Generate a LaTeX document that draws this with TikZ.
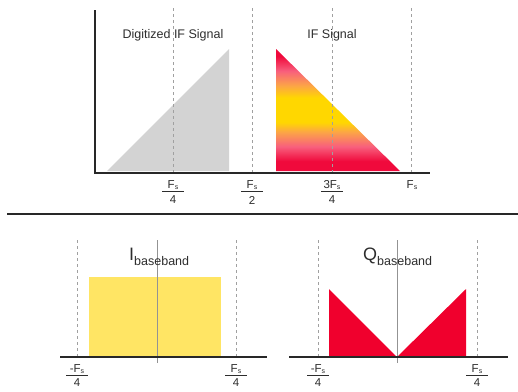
\documentclass[tikz,border=0pt]{standalone}
\usepackage{fontspec}
\setmainfont{Liberation Sans}
\definecolor{axisc}{RGB}{40,40,40}
\definecolor{dashc}{RGB}{160,160,160}
\definecolor{textc}{RGB}{45,45,45}
\definecolor{triGray}{RGB}{211,211,211}
\definecolor{bandYellow}{RGB}{255,229,100}
\definecolor{sigRed}{RGB}{240,0,45}
\definecolor{gRed}{RGB}{240,10,60}
\definecolor{gPink}{RGB}{248,95,125}
\definecolor{gOrange}{RGB}{252,165,70}
\definecolor{gYellow}{RGB}{255,215,0}
\pgfdeclareverticalshading{ifgrad}{100bp}{color(0bp)=(gRed); color(25bp)=(gRed); color(29bp)=(gRed); color(35bp)=(gPink); color(41bp)=(gOrange); color(45bp)=(gYellow); color(55bp)=(gYellow); color(60bp)=(gOrange); color(66bp)=(gPink); color(72bp)=(gRed); color(75bp)=(gRed); color(100bp)=(gRed)}
\newcommand{\Fsub}{F\raisebox{-0.6pt}{\fontsize{7}{7}\selectfont s}}
\begin{document}
\begin{tikzpicture}[x=1pt,y=-1pt,
  axisline/.style={draw=axisc,line width=1.4pt},
  guide/.style={draw=dashc,dash pattern=on 3pt off 3pt,line width=0.8pt},
  centerline/.style={draw=gray!85,line width=0.9pt},
  fracline/.style={draw=textc,line width=0.7pt},
  title/.style={font=\fontsize{12.5}{14}\selectfont,text=textc,inner sep=0},
  tick/.style={font=\fontsize{11.5}{13}\selectfont,text=textc,inner sep=0},
  bigsym/.style={anchor=base west,inner sep=0,text=textc}]
\useasboundingbox (0,0) rectangle (518,391);

% ---------- top spectrum ----------
\fill[triGray] (107,171) -- (229,171) -- (229,49) -- cycle;
\shade[shading=ifgrad] (276,49) -- (276,171) -- (400,171) -- cycle;
\foreach \x in {173,252,332,411} \draw[guide] (\x,8) -- (\x,173);
\draw[axisline] (95,10) -- (95,173) -- (430,173);
\node[title] (dig) at (173,35) {Digitized IF Signal};
\node[title] (ifs) at (332,35) {IF Signal};

\node[tick] (t1n) at (173,185) {\Fsub};
\draw[fracline] (162,191) -- (184,191);
\node[tick] (t1d) at (173,200) {4};
\node[tick] (t2n) at (252,185) {\Fsub};
\draw[fracline] (241,191) -- (263,191);
\node[tick] (t2d) at (252,200) {2};
\node[tick] (t3n) at (332,185) {3\Fsub};
\draw[fracline] (321,191) -- (343,191);
\node[tick] (t3d) at (332,200) {4};
\node[tick] (t4n) at (412,185) {\Fsub};

% ---------- separator ----------
\draw[axisline] (7,214) -- (518,214);

% ---------- I baseband ----------
\fill[bandYellow] (89,277) rectangle (221,357);
\draw[guide] (77,240) -- (77,357);
\draw[guide] (236,240) -- (236,357);
\draw[centerline] (157,240) -- (157,363);
\draw[axisline] (60,357) -- (267,357);
\node[bigsym] (ib) at (129,260) {\fontsize{18}{18}\selectfont I\raisebox{-5pt}{\fontsize{12.5}{12}\selectfont baseband}};
\node[tick] (i1n) at (77,369) {-\Fsub};
\draw[fracline] (66,375) -- (88,375);
\node[tick] (i1d) at (77,383) {4};
\node[tick] (i2n) at (236,369) {\Fsub};
\draw[fracline] (225,375) -- (247,375);
\node[tick] (i2d) at (236,383) {4};

% ---------- Q baseband ----------
\fill[sigRed] (329,289) -- (329,357) -- (397,357) -- cycle;
\fill[sigRed] (397,357) -- (466,357) -- (466,289) -- cycle;
\draw[guide] (318,240) -- (318,357);
\draw[guide] (477,240) -- (477,357);
\draw[centerline] (397,240) -- (397,363);
\draw[axisline] (289,357) -- (508,357);
\node[bigsym] (qb) at (363,260) {\fontsize{18}{18}\selectfont Q\raisebox{-5pt}{\fontsize{12.5}{12}\selectfont baseband}};
\node[tick] (q1n) at (318,369) {-\Fsub};
\draw[fracline] (307,375) -- (329,375);
\node[tick] (q1d) at (318,383) {4};
\node[tick] (q2n) at (477,369) {\Fsub};
\draw[fracline] (466,375) -- (488,375);
\node[tick] (q2d) at (477,383) {4};
\end{tikzpicture}
\end{document}
